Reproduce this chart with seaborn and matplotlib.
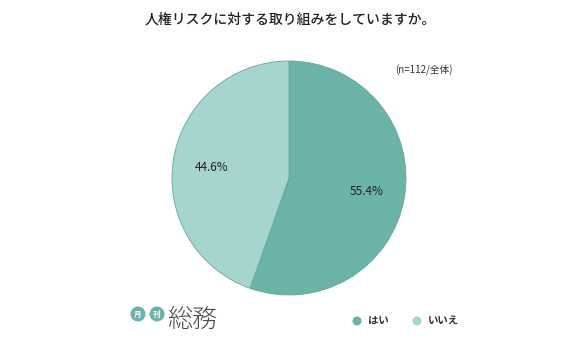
import matplotlib
matplotlib.use("Agg")
import matplotlib.pyplot as plt
from matplotlib.patches import Ellipse
import seaborn as sns

categories = ["はい", "いいえ"]
values = [55.4, 44.6]
colors = ["#6bb3a8", "#a6d4ce"]
title = "人権リスクに対する取り組みをしていますか。"
note = "(n=112/全体)"

sns.set_theme(style="white")
plt.rcParams['font.family'] = ['Noto Sans CJK JP', 'DejaVu Sans']

W, H = 580, 360
fig = plt.figure(figsize=(W / 100, H / 100), dpi=100)
fig.patch.set_facecolor("white")


def dot(x, y, rad, color):
    fig.add_artist(Ellipse((x / W, 1 - y / H), 2 * rad / W, 2 * rad / H,
                           transform=fig.transFigure, facecolor=color, edgecolor="none"))


cx, cy, r = 289, 178, 117
ax = fig.add_axes([(cx - r) / W, (H - cy - r) / H, 2 * r / W, 2 * r / H])
wedges, texts, autotexts = ax.pie(
    values, colors=colors, startangle=90, counterclock=False,
    autopct=lambda p: f"{p:.1f}%", pctdistance=0.67,
    wedgeprops=dict(edgecolor="#5fa99e", linewidth=0.6),
    textprops=dict(fontsize=8.5, color="#222222"))
autotexts[1].set_position((autotexts[1].get_position()[0], autotexts[1].get_position()[1] - 0.02))
ax.set_aspect("equal")
ax.set_xlim(-1.0, 1.0)
ax.set_ylim(-1.0, 1.0)
ax.axis("off")

fig.text(290 / W, 1 - 20 / H, title, ha="center", va="center", fontsize=10,
         color="#222222", fontweight="medium")
fig.text(395 / W, 1 - 70 / H, note, ha="left", va="center", fontsize=7, color="#333333")

# legend
lx = [357, 417]
for i, (c, lab) in enumerate(zip(colors, categories)):
    dot(lx[i], 321, 4.5, c)
    fig.text((lx[i] + 11) / W, 1 - 321 / H, lab, ha="left", va="center", fontsize=7.5,
             color="#333333", fontweight="bold")

# logo
for x0, ch in [(138, "月"), (157, "刊")]:
    dot(x0, 314, 7.5, "#6bb3a8")
    fig.text(x0 / W, 1 - 314 / H, ch, ha="center", va="center", fontsize=5.5,
             color="white", fontweight="bold")
fig.text(167 / W, 1 - 320 / H, "総務", ha="left", va="center", fontsize=18, color="#4a4a4a",
         fontweight="light")

fig.savefig("out.png", dpi=100, facecolor="white")
